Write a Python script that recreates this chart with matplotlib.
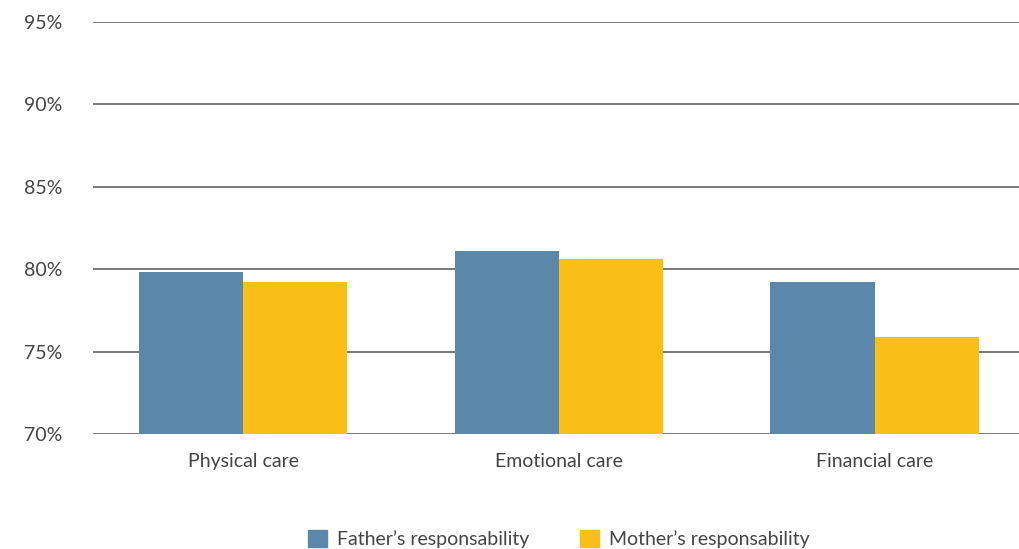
import matplotlib.pyplot as plt
import matplotlib.patches as mpatches
import numpy as np

categories = ['Physical care', 'Emotional care', 'Financial care']
father = [79.8, 81.1, 79.2]
mother = [79.2, 80.6, 75.9]
yticks = [70, 75, 80, 85, 90, 95]

blue = '#5b87aa'
yellow = '#f9bf16'
txt = '#444444'

plt.rcParams['font.family'] = ['Lato', 'DejaVu Sans']

fig = plt.figure(figsize=(10.2, 5.49), dpi=100)
ax = fig.add_axes([93 / 1020, 1 - 434 / 549, 1 - 93 / 1020, (434 - 22) / 549])

x = np.arange(len(categories))
w = 0.33
ax.bar(x - w / 2, father, w, bottom=0, color=blue, zorder=3)
ax.bar(x + w / 2, mother, w, bottom=0, color=yellow, zorder=3)

ax.set_ylim(70, 95)
ax.set_xlim(-0.475, 2.46)
ax.set_yticks(yticks)
ax.set_yticklabels([f'{v}%' for v in yticks])
ax.set_xticks(x)
ax.set_xticklabels(categories)
ax.tick_params(axis='both', length=0, labelsize=14, labelcolor=txt)
ax.tick_params(axis='y', pad=22)
ax.tick_params(axis='x', pad=14)

ax.grid(axis='y', color='#6e6e6e', linewidth=1.3, zorder=0)
for s in ax.spines.values():
    s.set_visible(False)

handles = [mpatches.Patch(color=blue, label='Father\u2019s responsability'),
           mpatches.Patch(color=yellow, label='Mother\u2019s responsability')]
leg = fig.legend(handles=handles, loc='lower center', bbox_to_anchor=(0.548, -0.03),
                 ncol=2, frameon=False, fontsize=14, handlelength=0.95, handleheight=0.95,
                 columnspacing=2.6, handletextpad=0.55)
for t in leg.get_texts():
    t.set_color(txt)

fig.savefig('out.png', dpi=100)
